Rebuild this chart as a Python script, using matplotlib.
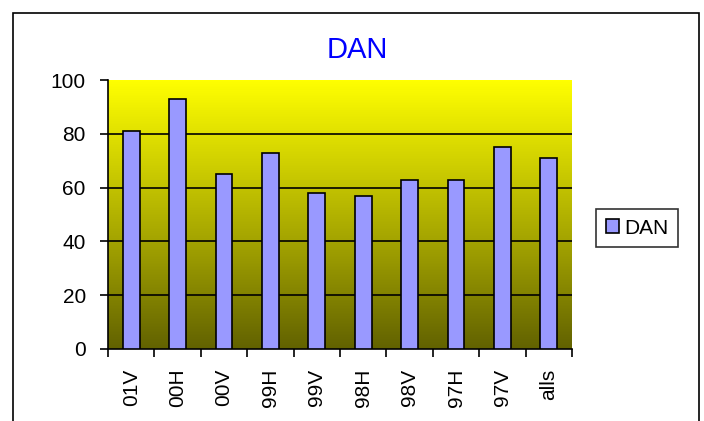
import numpy as np
import matplotlib.pyplot as plt
from matplotlib.colors import LinearSegmentedColormap
from matplotlib.patches import Rectangle

plt.rcParams['font.family'] = ['Liberation Sans', 'DejaVu Sans']

# Data
categories = ["01V", "00H", "00V", "99H", "99V", "98H", "98V", "97H", "97V", "alls"]
dan_values = [81, 93, 65, 73, 58, 57, 63, 63, 75, 71]
y_ticks = [0, 20, 40, 60, 80, 100]

fig = plt.figure(figsize=(7.04, 4.21), dpi=100)
fig.patch.set_facecolor("white")

# outer chart frame
fig.patches.append(Rectangle((13 / 704, -0.05), (699 - 13) / 704, 1.05 - 13 / 421,
                             transform=fig.transFigure, fill=False,
                             edgecolor="black", linewidth=1.2))

ax = fig.add_axes([108 / 704, 1 - 349 / 421, 464 / 704, 269 / 421])

# yellow -> olive gradient background
cmap = LinearSegmentedColormap.from_list("yel", ["#626200", "#999900", "#cccc00", "#ffff00"])
grad = np.linspace(0, 1, 256).reshape(-1, 1)
ax.imshow(grad, cmap=cmap, aspect="auto", extent=[-0.5, len(categories) - 0.5, 0, 100],
          origin="lower", zorder=0)

x = np.arange(len(categories))
ax.bar(x, dan_values, width=0.36, color="#9999ff", edgecolor="black", linewidth=1.2,
       label="DAN", zorder=3)

ax.set_xlim(-0.5, len(categories) - 0.5)
ax.set_ylim(0, 100)
ax.set_yticks(y_ticks)
ax.set_yticklabels([str(v) for v in y_ticks], fontsize=15)
for v in y_ticks[1:-1]:
    ax.axhline(v, color="black", linewidth=1.2, zorder=2)

ax.set_xticks(np.arange(len(categories) + 1) - 0.5, minor=False)
ax.set_xticklabels([])
ax.set_xticks(x, minor=True)
ax.set_xticklabels(categories, minor=True, rotation=90, fontsize=15)
ax.tick_params(axis="x", which="minor", length=0, pad=14)
ax.tick_params(axis="x", which="major", length=6, width=1.2, direction="out")
ax.tick_params(axis="y", length=6, width=1.2, direction="out", pad=10)

for side in ["top", "right"]:
    ax.spines[side].set_visible(False)
ax.spines["left"].set_linewidth(1.2)
ax.spines["bottom"].set_linewidth(1.2)

fig.text(357 / 704, 1 - 50 / 421, "DAN", color="#0000ff", fontsize=21,
         ha="center", va="center")

leg = fig.legend(loc="center", bbox_to_anchor=(637 / 704, 1 - 228 / 421),
                 fontsize=15, frameon=True, fancybox=False, edgecolor="black",
                 handlelength=0.65, handleheight=0.65, handletextpad=0.25,
                 borderpad=0.45, borderaxespad=0)
leg.get_frame().set_linewidth(1.2)

fig.savefig("out.png", dpi=100)
